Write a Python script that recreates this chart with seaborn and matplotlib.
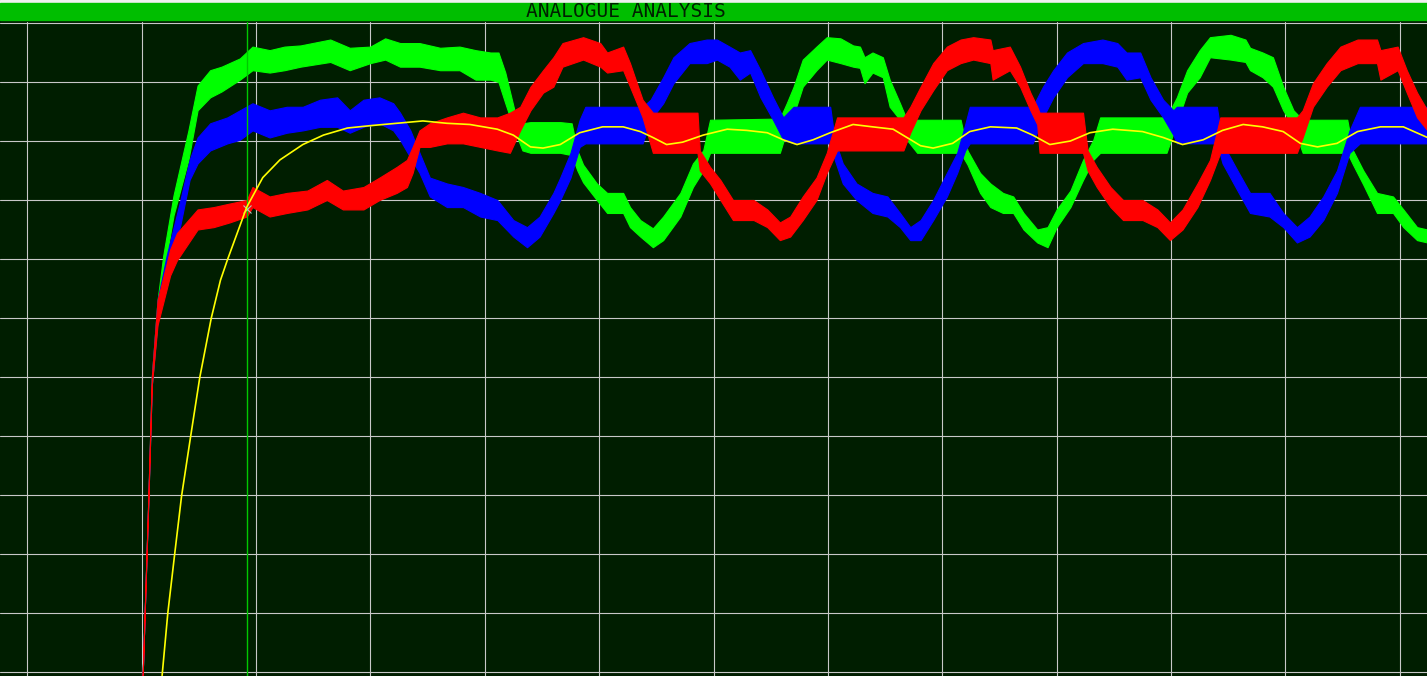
import numpy as np
import pandas as pd
import matplotlib
matplotlib.use("Agg")
import matplotlib.pyplot as plt
from matplotlib.patches import Rectangle
import seaborn as sns

# time axis in ms (10 ms / div), voltage in V (50 V / div)
green_t = [0.1, 0.6, 0.9, 1.4, 1.9, 2.8, 4.1, 4.9, 6.0, 7.0, 8.6, 9.7, 11.2, 12.5, 13.9, 16.5, 18.2, 20.0,
           21.3, 22.6, 24.3, 26.1, 27.8, 29.2, 30.5, 31.2, 31.8, 32.6, 33.3, 34.0, 36.6, 37.6, 38.1, 38.6,
           39.8, 40.7, 42.1, 42.7, 43.6, 44.7, 45.6, 47.1, 48.2, 49.1, 49.7, 55.8, 56.4, 57.0, 57.8, 59.0,
           59.9, 61.1, 62.2, 62.8, 63.2, 63.9, 64.8, 65.4, 66.3, 66.9, 67.8, 71.6, 72.2, 73.3, 74.2, 75.3,
           76.2, 77.1, 78.3, 79.2, 80.0, 81.2, 82.3, 83.2, 83.8, 89.6, 90.5, 91.4, 92.5, 93.4, 95.2, 96.5,
           96.9, 98.0, 98.9, 99.8, 100.7, 101.5, 105.4, 105.9, 106.8, 108.0, 109.4, 110.3, 111.5, 112.4]
green_hi = [-3, 149, 250, 315, 353, 404, 459, 497, 510, 513, 520, 530, 527, 530, 531, 536, 529, 530,
            537, 533, 533, 529, 530, 527, 525, 525, 508, 476, 465, 466, 466, 465, 442, 430,
            414, 406, 406, 394, 383, 376, 386, 406, 431, 442, 468, 469, 482, 496, 519, 530,
            538, 537, 531, 530, 521, 525, 521, 502, 482, 468, 468, 468, 442, 423, 414, 406,
            403, 389, 375, 377, 392, 408, 434, 451, 470, 470, 487, 510, 527, 538, 540, 536,
            529, 525, 521, 496, 476, 468, 468, 442, 425, 406, 403, 392, 377, 375]
green_lo = [-3, 146, 243, 298, 336, 387, 434, 476, 487, 492, 502, 510, 508, 510, 513, 517, 510, 516,
            519, 513, 513, 510, 510, 502, 502, 500, 482, 459, 442, 440, 440, 438, 425, 415,
            400, 389, 389, 377, 369, 360, 366, 386, 411, 425, 440, 440, 459, 472, 496, 510,
            519, 516, 513, 512, 499, 508, 504, 479, 468, 451, 440, 440, 430, 406, 394, 389,
            389, 375, 364, 360, 377, 394, 417, 434, 440, 440, 465, 491, 504, 521, 519, 517,
            510, 504, 496, 476, 462, 440, 440, 430, 413, 389, 389, 377, 366, 364]

blue_t = [0.1, 0.6, 0.9, 1.4, 2.2, 3.4, 4.2, 4.9, 6.0, 7.5, 8.6, 9.7, 11.2, 12.7, 14.1, 15.6, 17.1, 18.2,
          19.4, 20.8, 22.0, 22.6, 23.5, 24.3, 25.2, 26.7, 28.1, 29.6, 31.1, 32.5, 33.7, 34.8, 36.0, 36.6,
          37.5, 38.3, 38.8, 43.8, 44.5, 45.6, 46.5, 47.9, 49.4, 50.3, 51.4, 52.3, 53.2, 54.1, 55.2, 56.1,
          57.0, 60.2, 60.6, 61.3, 62.5, 63.9, 65.2, 66.3, 67.2, 68.1, 69.2, 70.4, 71.3, 72.0, 72.4, 77.9,
          78.8, 79.7, 80.9, 82.3, 84.0, 85.3, 86.1, 87.3, 88.2, 89.3, 90.2, 90.5, 94.0, 94.5, 95.8, 96.9,
          98.6, 99.8, 101.0, 102.1, 103.3, 104.5, 105.6, 106.5, 112.4]
blue_hi = [-3, 149, 250, 315, 353, 400, 434, 453, 465, 470, 476, 482, 476, 479, 479, 485, 487, 476,
           485, 487, 482, 474, 459, 440, 419, 414, 411, 406, 400, 383, 377, 386, 406, 419,
           440, 468, 479, 479, 485, 504, 521, 533, 536, 536, 530, 525, 527, 510, 487, 470,
           479, 479, 451, 431, 414, 406, 403, 389, 377, 383, 400, 423, 440, 464, 479, 479,
           496, 510, 525, 533, 536, 533, 525, 525, 504, 485, 476, 479, 479, 448, 425, 406,
           406, 389, 377, 386, 403, 425, 459, 479, 479]
blue_lo = [-3, 146, 243, 298, 336, 379, 417, 431, 442, 448, 451, 459, 453, 457, 459, 462, 462, 457,
           462, 465, 459, 451, 436, 423, 403, 394, 394, 386, 383, 369, 360, 369, 389, 400,
           419, 445, 448, 448, 468, 482, 499, 516, 516, 519, 513, 502, 508, 487, 468, 451,
           448, 448, 434, 414, 400, 389, 386, 377, 366, 366, 383, 403, 423, 442, 448, 448,
           470, 487, 504, 516, 516, 513, 502, 504, 485, 470, 455, 448, 448, 431, 408, 389,
           386, 377, 364, 369, 383, 406, 440, 448, 448]

red_t = [0.1, 0.6, 0.9, 1.4, 2.5, 3.1, 4.9, 6.3, 7.7, 9.2, 9.7, 11.2, 12.7, 14.5, 16.2, 17.6, 19.4, 20.8,
         22.3, 23.2, 23.7, 24.3, 25.2, 26.7, 28.1, 29.6, 31.1, 32.2, 33.1, 34.0, 35.1, 36.0, 36.8, 38.6,
         40.1, 40.7, 42.1, 42.7, 43.3, 43.8, 44.7, 48.6, 48.8, 49.7, 50.6, 51.7, 53.5, 54.7, 55.8, 56.7,
         57.8, 59.0, 59.9, 60.8, 66.6, 67.2, 68.1, 69.2, 70.4, 71.6, 72.7, 74.2, 74.4, 75.9, 76.8, 77.7,
         78.3, 78.5, 82.3, 82.7, 83.5, 84.7, 85.8, 87.5, 88.8, 89.9, 91.0, 92.3, 93.4, 94.3, 101.0, 101.5,
         102.4, 103.6, 104.8, 106.3, 108.0, 108.3, 109.8, 110.6, 111.5, 112.4]
red_hi = [-3, 149, 250, 315, 358, 372, 392, 394, 397, 400, 411, 403, 406, 408, 417, 408, 411, 419,
          428, 434, 445, 459, 465, 470, 474, 470, 470, 474, 479, 496, 510, 521, 533, 538,
          533, 525, 530, 516, 499, 485, 474, 474, 442, 428, 417, 400, 400, 392, 381, 386,
          403, 419, 440, 470, 470, 479, 496, 516, 530, 536, 538, 536, 527, 530, 513, 491,
          479, 474, 474, 442, 428, 411, 400, 400, 392, 381, 392, 414, 434, 470, 470, 476,
          499, 516, 530, 536, 536, 527, 530, 510, 491, 476]
red_lo = [-3, 146, 243, 294, 336, 349, 375, 377, 381, 386, 394, 386, 389, 392, 400, 392, 392, 400,
          406, 411, 423, 445, 445, 448, 448, 445, 442, 440, 459, 476, 491, 496, 513, 519,
          513, 508, 510, 496, 482, 470, 440, 440, 425, 414, 400, 383, 383, 377, 366, 369,
          383, 400, 423, 442, 442, 457, 476, 493, 510, 516, 519, 516, 502, 510, 496, 476,
          464, 440, 440, 425, 411, 394, 383, 383, 377, 366, 375, 394, 417, 440, 440, 453,
          479, 496, 510, 516, 516, 502, 510, 491, 470, 459]

yellow_t = [1.8, 2.3, 2.9, 3.5, 4.3, 5.1, 6.1, 6.9, 7.5, 9.2, 10.6, 12.1, 14.1, 15.9, 18.0, 20.0, 22.3,
            24.6, 26.7, 28.7, 31.1, 32.5, 34.0, 35.1, 36.6, 38.3, 40.3, 42.1, 43.6, 44.7, 45.9, 47.3,
            49.1, 51.2, 52.9, 54.7, 56.1, 57.3, 58.7, 60.2, 62.2, 63.9, 65.7, 66.9, 68.1, 69.2, 70.9,
            72.4, 74.2, 76.5, 77.9, 79.4, 81.2, 82.9, 84.9, 87.5, 89.3, 91.0, 92.8, 94.5, 96.3, 98.0,
            99.8, 101.3, 102.8, 104.5, 106.3, 108.3, 110.3, 112.4]
yellow_v = [-3, 50, 100, 149, 200, 250, 300, 332, 349, 394, 419, 434, 447, 455, 461, 463, 465,
            467, 465, 464, 460, 455, 445, 444, 447, 457, 462, 462, 458, 453, 447, 449,
            455, 460, 459, 457, 451, 447, 451, 457, 464, 462, 460, 453, 446, 444, 448,
            458, 462, 461, 455, 447, 450, 457, 460, 458, 453, 447, 451, 459, 464, 462,
            458, 448, 445, 448, 458, 462, 462, 453]

cursor_t = 9.2
cursor_v = 392

BG = "#001e00"
sns.set_style("dark", rc={"axes.facecolor": BG, "figure.facecolor": BG,
                          "grid.color": "#c8c8c8", "grid.linewidth": 1.0})

fig = plt.figure(figsize=(14.27, 6.76), dpi=100)
ax = fig.add_axes([0, 0, 1, 654 / 676])

phases = [(green_t, green_hi, green_lo, "#00ff00"),
          (blue_t, blue_hi, blue_lo, "#0000ff"),
          (red_t, red_hi, red_lo, "#ff0000")]
for i, (t, hi, lo, col) in enumerate(phases):
    ax.fill_between(t, lo, hi, color=col, lw=0.8, zorder=3 + i)

ax.axvline(cursor_t, color="#00c800", lw=1.0, zorder=7)
ax.plot(cursor_t, cursor_v, marker="x", ms=6, mew=0.8, color="#b0c8c0", zorder=8)

df = pd.DataFrame({"t": yellow_t, "v": yellow_v})
sns.lineplot(data=df, x="t", y="v", color="#ffff00", lw=1.2, ax=ax, zorder=9)

ax.set_xlim(-12.37, 112.37)
ax.set_ylim(-3.4, 550.85)
ax.set_xticks(np.arange(-10, 111, 10))
ax.set_yticks(np.arange(0, 551, 50))
ax.grid(True, zorder=1)
ax.set_axisbelow(True)
ax.tick_params(length=0, labelbottom=False, labelleft=False)
ax.set_xlabel("")
ax.set_ylabel("")
for s in ax.spines.values():
    s.set_visible(False)

# title strip
fig.add_artist(Rectangle((0, 1 - 3 / 676), 1, 3 / 676, transform=fig.transFigure,
                         color="#f0f0f0", zorder=0))
fig.add_artist(Rectangle((0, 1 - 20 / 676), 1, 17 / 676, transform=fig.transFigure,
                         color="#00be00", zorder=0))
fig.text(626 / 1427, 1 - 11.5 / 676, "ANALOGUE ANALYSIS", ha="center", va="center",
         fontsize=14, family="DejaVu Sans Mono", color="#002000")

fig.savefig("out.png", dpi=100, facecolor=BG)
